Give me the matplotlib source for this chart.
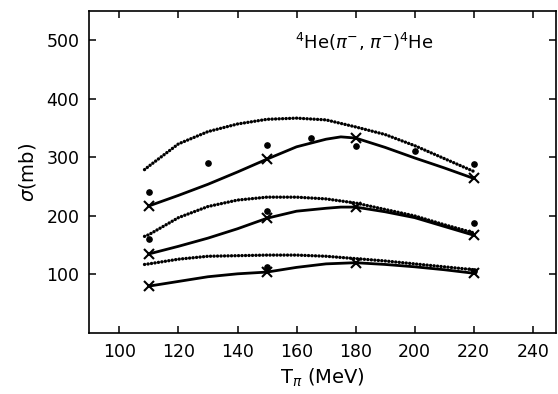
import numpy as np
import matplotlib; matplotlib.use('Agg')
import matplotlib.pyplot as plt

plt.rcParams['font.family'] = ['DejaVu Sans']
plt.rcParams['mathtext.fontset'] = 'dejavusans'

T_curve = [110, 120, 130, 140, 150, 160, 170, 175, 180, 190, 200, 210, 220]

# solid curves (upper, middle, lower)
solid_hi = [217, 235, 254, 275, 297, 318, 331, 335, 333, 317, 299, 282, 264]
solid_mid = [135, 148, 162, 178, 196, 208, 213, 215, 215, 207, 197, 182, 167]
solid_lo = [80, 88, 96, 101, 104, 112, 118, 119, 120, 117, 113, 108, 102]

# dotted curves
T_dot = [108.5, 110, 120, 130, 140, 150, 160, 170, 180, 190, 200, 210, 220]
dot_hi = [279, 285, 323, 344, 357, 365, 367, 364, 352, 339, 320, 298, 276]
dot_mid = [165, 168, 197, 216, 227, 232, 232, 229, 222, 211, 200, 185, 171]
dot_lo = [117, 118, 126, 131, 132, 133, 133, 131, 127, 123, 118, 113, 108]

# crosses on the solid curves
T_cross = [110, 150, 180, 220]
cross_hi = [217, 297, 333, 264]
cross_mid = [135, 196, 215, 167]
cross_lo = [80, 104, 120, 102]

# data points
T_pts_hi = [110, 130, 150, 165, 180, 200, 220]
pts_hi = [240, 291, 321, 333, 320, 311, 288]
T_pts_mid = [110, 150, 220]
pts_mid = [160, 208, 187]
T_pts_lo = [150, 220]
pts_lo = [112, 106]

fig = plt.figure(figsize=(5.58, 3.94), dpi=100)
ax = fig.add_axes([0.1595, 0.155, 0.8365, 0.817])

for s in (solid_hi, solid_mid, solid_lo):
    ax.plot(T_curve, s, color='black', lw=2.0, solid_capstyle='round',
            solid_joinstyle='round')
for d in (dot_hi, dot_mid, dot_lo):
    ax.plot(T_dot, d, color='black', lw=2.4, linestyle=(0, (0.05, 1.0)),
            dash_capstyle='round')
for c in (cross_hi, cross_mid, cross_lo):
    ax.plot(T_cross, c, linestyle='none', marker='x', color='black',
            markersize=7, markeredgewidth=1.5)
for tx, p in ((T_pts_hi, pts_hi), (T_pts_mid, pts_mid), (T_pts_lo, pts_lo)):
    ax.plot(tx, p, linestyle='none', marker='o', color='black', markersize=3.8)

ax.set_xlim(89.7, 247.8)
ax.set_ylim(0, 550)
ax.set_xticks(np.arange(100, 241, 20))
ax.set_yticks(np.arange(100, 501, 100))
ax.tick_params(direction='in', length=5, width=1.1, top=True, right=True,
               labelsize=12.5, pad=7)
for sp in ax.spines.values():
    sp.set_linewidth(1.2)

ax.set_xlabel(r'T$_{\pi}$ (MeV)', fontsize=14, labelpad=4)
ax.set_ylabel(r'$\sigma$(mb)', fontsize=14, labelpad=6)

ax.text(183, 498, r'$^4$He($\pi^{-}$, $\pi^{-}$)$^4$He', fontsize=13,
        ha='center', va='center')

fig.savefig('out.png', dpi=100)
